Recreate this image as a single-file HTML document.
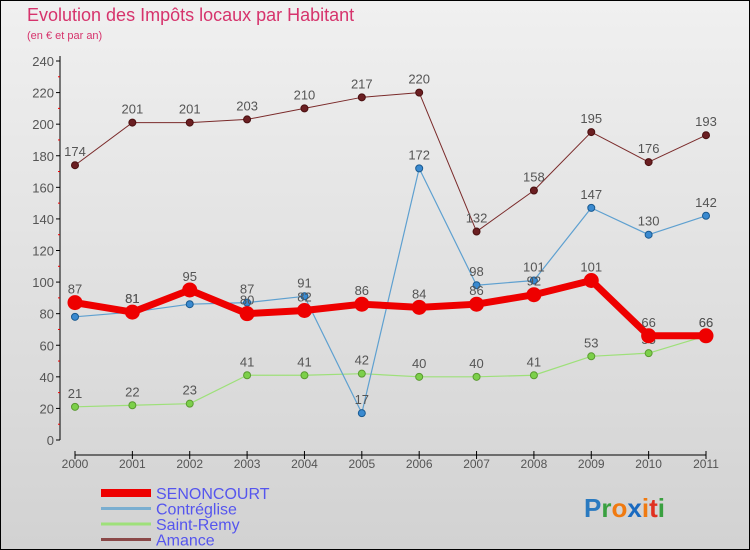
<!DOCTYPE html>
<html><head><meta charset="utf-8"><style>
body{margin:0;}
#wrap{width:748px;height:548px;border:1px solid #000;background:linear-gradient(#f0f0f0,#d2d2d2);position:relative;overflow:hidden;font-family:"Liberation Sans",sans-serif;}
svg text{font-family:"Liberation Sans",sans-serif;}
</style></head><body>
<div id="wrap">
<svg id="c" width="748" height="548"></svg>
</div>
<script>
const years=["2000","2001","2002","2003","2004","2005","2006","2007","2008","2009","2010","2011"];
const senoncourt=[87,81,95,80,82,86,84,86,92,101,66,66];
const contreglise=[78,81,86,87,91,17,172,98,101,147,130,142];
const saintRemy=[21,22,23,41,41,42,40,40,41,53,55,66];
const amance=[174,201,201,203,210,217,220,132,158,195,176,193];
const yTicks=[0,20,40,60,80,100,120,140,160,180,200,220,240];
const NS="http://www.w3.org/2000/svg";
const svg=document.getElementById('c');
function X(i){return 74+i*(705-74)/(years.length-1);}
function Y(v){return 439-v*(379/240);}
function mk(t,a,p){const e=document.createElementNS(NS,t);for(const k in a)e.setAttribute(k,a[k]);(p||svg).appendChild(e);return e;}
function tx(x,y,s,a,fill,size){const e=mk('text',{x:x,y:y,'text-anchor':a||'middle',fill:fill||'#555','font-size':size||12});e.textContent=s;return e;}
let t=tx(26,20,'Evolution des Impôts locaux par Habitant','start','#d6336c',18);


t=tx(26,38,'(en € et par an)','start','#d6336c',11);


let ax=mk('line',{x1:59,y1:55,x2:59,y2:439,stroke:'#000'});


yTicks.forEach(v=>{mk('line',{x1:55,x2:59,y1:Y(v),y2:Y(v),stroke:'#000'});
 if(v<240)mk('line',{x1:57,x2:59,y1:Y(v+10),y2:Y(v+10),stroke:'#e00'});
 const l=tx(53,Y(v)+5,String(v),'end','#555',13);
 
 });
ax=mk('line',{x1:74,y1:454,x2:705,y2:454,stroke:'#000'});


years.forEach((y,i)=>{mk('line',{x1:X(i),x2:X(i),y1:450,y2:458,stroke:'#000'});
 const l=tx(X(i),467,y,'middle','#555',12);
 
 });
function series(name,data,color,w,r,dot,stroke){
 const g=mk('g',{});
 
 
 mk('polyline',{points:data.map((v,i)=>X(i)+','+Y(v)).join(' '),fill:'none',stroke:color,'stroke-width':w,'stroke-linejoin':'round'},g);
 data.forEach((v,i)=>{const c=mk('circle',{cx:X(i),cy:Y(v),r:r,fill:dot,stroke:stroke,'stroke-width':1},g);
  
  });
 data.forEach((v,i)=>{const l=tx(X(i),Y(v)-9,String(v),'middle','#555',13);g.appendChild(l);
  
  });
}
series('amance',amance,'#7a2a2a',1,3.5,'#6b1f22','#4a1010');
series('saint-remy',saintRemy,'#9ee07a',1.2,3.5,'#7cd04a','#5a9a30');
series('contreglise',contreglise,'#5ea0d0',1.2,3.5,'#3a8ad0','#1a5a90');
series('senoncourt',senoncourt,'#ee0000',7,7,'#ee0000','#ee0000');
const leg=[['SENONCOURT','#ee0000',8],['Contréglise','#7aaed0',3],['Saint-Remy','#9ee07a',3],['Amance','#8a4848',3]];
leg.forEach((d,i)=>{const g=mk('g',{});
 
 
 const y=492+i*15.5;
 mk('line',{x1:100,x2:150,y1:y,y2:y,stroke:d[1],'stroke-width':d[2]},g);
 const l=tx(155,y+6,d[0],'start','#5555ee',16);g.appendChild(l);});
const lg=mk('text',{x:583,y:516,'font-size':26,'font-weight':'bold'});


[['P','#2a7ac0'],['r','#3aa040'],['o','#f07a10'],['x','#1a6ac0'],['i','#f07a10'],['t','#e03020'],['i','#3aa040']].forEach(c=>{const s=mk('tspan',{fill:c[1]},lg);s.textContent=c[0];});
</script>
</body></html>
